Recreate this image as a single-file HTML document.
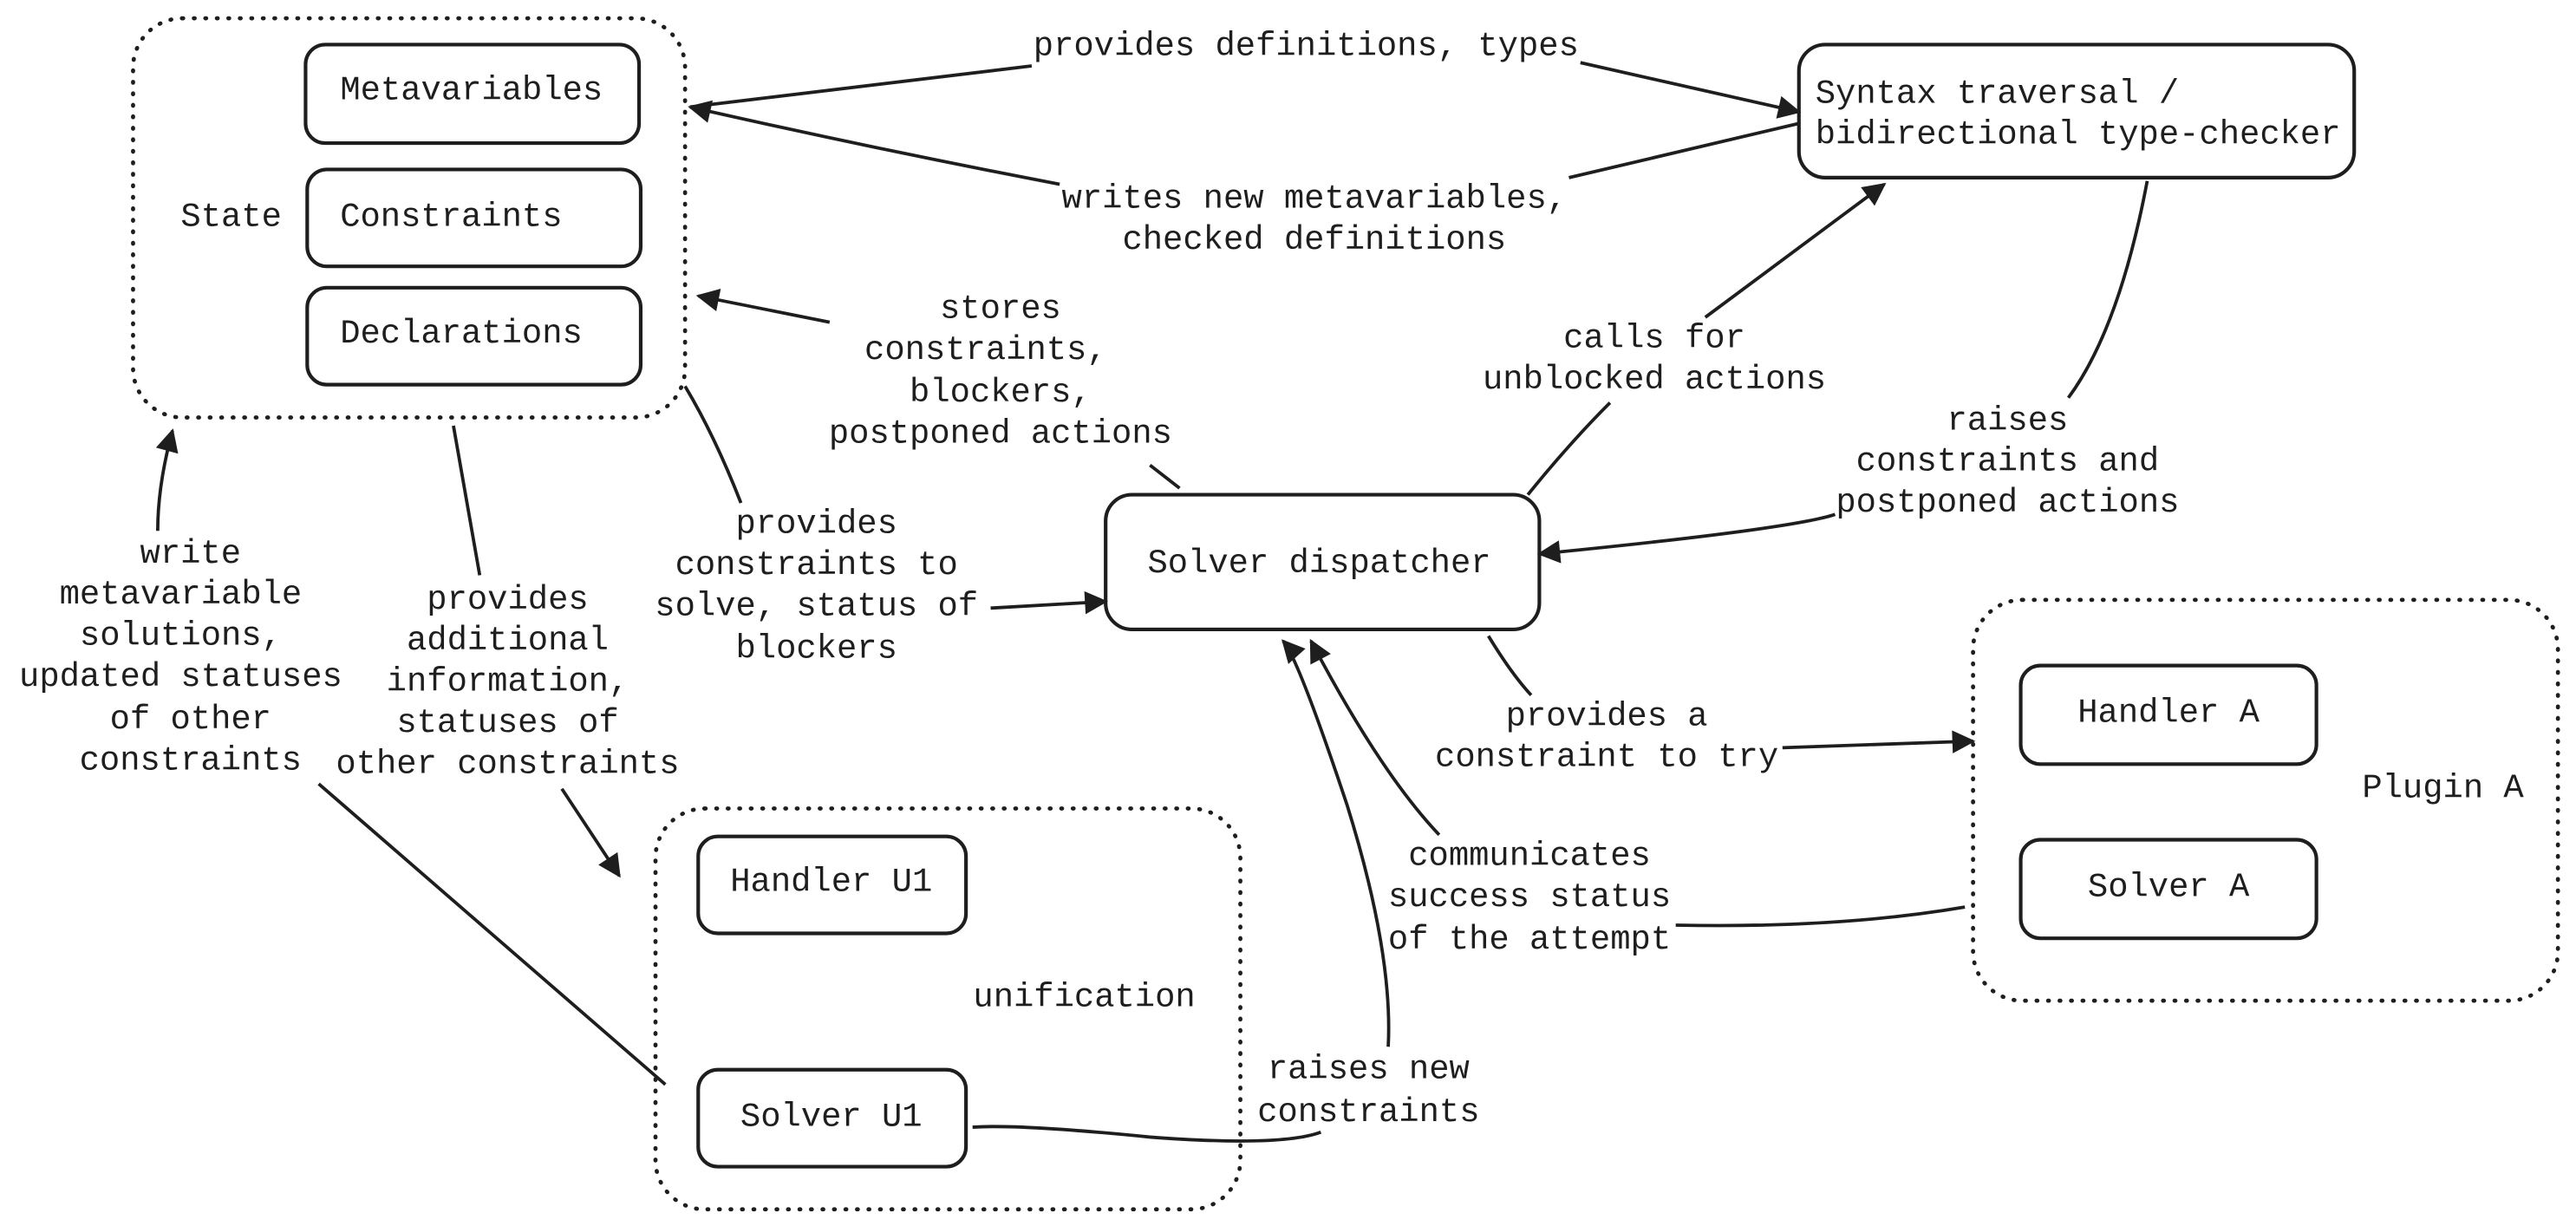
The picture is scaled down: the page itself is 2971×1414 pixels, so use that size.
<!DOCTYPE html>
<html><head><meta charset="utf-8"><style>
html,body{margin:0;padding:0;background:#fff;}
svg{display:block;}
text{font-family:"Liberation Mono","DejaVu Sans Mono",monospace;font-size:20.5px;fill:#1e1e1e;}
</style></head><body>
<svg width="2971" height="1414" viewBox="0 0 1568 746" xmlns="http://www.w3.org/2000/svg">
<defs>
<marker id="a" viewBox="0 0 10 10" refX="9" refY="5" markerWidth="17" markerHeight="14" markerUnits="userSpaceOnUse" orient="auto">
<path d="M0,0 L10,5 L0,10 z" fill="#1e1e1e"/></marker>
</defs>
<rect width="1568" height="746" fill="#fff"/>
<g fill="none" stroke="#1e1e1e" stroke-width="2.5" stroke-linecap="round" stroke-dasharray="0.5 6.5">
<rect x="81" y="11" width="336" height="243" rx="30"/>
<rect x="1201" y="365" width="356" height="244" rx="30"/>
<rect x="399" y="492" width="356" height="244" rx="30"/>
</g>
<g fill="none" stroke="#1e1e1e" stroke-width="2.2">
<rect x="186" y="27" width="203" height="60" rx="12"/>
<rect x="187" y="103" width="203" height="59" rx="12"/>
<rect x="187" y="175" width="203" height="59" rx="12"/>
<rect x="1095" y="27" width="338" height="81" rx="16"/>
<rect x="673" y="301" width="264" height="82" rx="16"/>
<rect x="1230" y="405" width="180" height="60" rx="12"/>
<rect x="1230" y="511" width="180" height="60" rx="12"/>
<rect x="425" y="509" width="163" height="59" rx="12"/>
<rect x="425" y="651" width="163" height="59" rx="12"/>
</g>
<g fill="none" stroke="#1e1e1e" stroke-width="2">
<path d="M420,65 L628,40"/>
<path d="M962,38 L1095,68" marker-end="url(#a)"/>
<path d="M1095,75 L955,108"/>
<path d="M645,112 Q530,90 420,65" marker-end="url(#a)"/>
<path d="M718,297 L700,283"/>
<path d="M505,196 L425,180" marker-end="url(#a)"/>
<path d="M930,301 Q955,270 980,245"/>
<path d="M1038,193 L1147,112" marker-end="url(#a)"/>
<path d="M1307,110 Q1290,200 1259,242"/>
<path d="M1117,313 Q1090,322 937,337" marker-end="url(#a)"/>
<path d="M417,235 Q435,265 451,306"/>
<path d="M603,370 L673,366" marker-end="url(#a)"/>
<path d="M405,660 L194,477"/>
<path d="M96,323 Q96,295 105,262" marker-end="url(#a)"/>
<path d="M276,259 L292,350"/>
<path d="M342,480 L377,533" marker-end="url(#a)"/>
<path d="M906,387 Q920,410 932,423"/>
<path d="M1085,455 L1201,451" marker-end="url(#a)"/>
<path d="M1196,552 Q1120,565 1020,563"/>
<path d="M876,508 Q840,470 798,390" marker-end="url(#a)"/>
<path d="M592,686 Q620,684 700,692 Q780,698 804,689"/>
<path d="M845,637 Q848,580 820,490 Q790,400 781,390" marker-end="url(#a)"/>
</g>
<g dominant-baseline="central">
<text x="287" y="55" text-anchor="middle">Metavariables</text>
<text x="207" y="132">Constraints</text>
<text x="207" y="203">Declarations</text>
<text x="110" y="132">State</text>
<text x="1105" y="57">Syntax traversal /</text>
<text x="1105" y="82">bidirectional type-checker</text>
<text x="803" y="343" text-anchor="middle">Solver dispatcher</text>
<text x="1320" y="434" text-anchor="middle">Handler A</text>
<text x="1320" y="540" text-anchor="middle">Solver A</text>
<text x="1487" y="480" text-anchor="middle">Plugin A</text>
<text x="506" y="537" text-anchor="middle">Handler U1</text>
<text x="506" y="680" text-anchor="middle">Solver U1</text>
<text x="660" y="607" text-anchor="middle">unification</text>
</g>
<g dominant-baseline="central" text-anchor="middle">
<text x="795" y="28">provides definitions, types</text>
<text x="800" y="121">writes new metavariables,</text>
<text x="800" y="146">checked definitions</text>
<text x="609" y="188">stores</text>
<text x="600" y="213">constraints,</text>
<text x="609" y="239">blockers,</text>
<text x="609" y="264">postponed actions</text>
<text x="1007" y="206">calls for</text>
<text x="1007" y="231">unblocked actions</text>
<text x="1222" y="256">raises</text>
<text x="1222" y="281">constraints and</text>
<text x="1222" y="306">postponed actions</text>
<text x="497" y="319">provides</text>
<text x="497" y="344">constraints to</text>
<text x="497" y="369">solve, status of</text>
<text x="497" y="395">blockers</text>
<text x="116" y="337">write</text>
<text x="110" y="362">metavariable</text>
<text x="110" y="387">solutions,</text>
<text x="110" y="412">updated statuses</text>
<text x="116" y="438">of other</text>
<text x="116" y="463">constraints</text>
<text x="309" y="365">provides</text>
<text x="309" y="390">additional</text>
<text x="309" y="415">information,</text>
<text x="309" y="440">statuses of</text>
<text x="309" y="465">other constraints</text>
<text x="978" y="436">provides a</text>
<text x="978" y="461">constraint to try</text>
<text x="931" y="521">communicates</text>
<text x="931" y="546">success status</text>
<text x="931" y="572">of the attempt</text>
<text x="833" y="651">raises new</text>
<text x="833" y="677">constraints</text>
</g>
</svg>
</body></html>
